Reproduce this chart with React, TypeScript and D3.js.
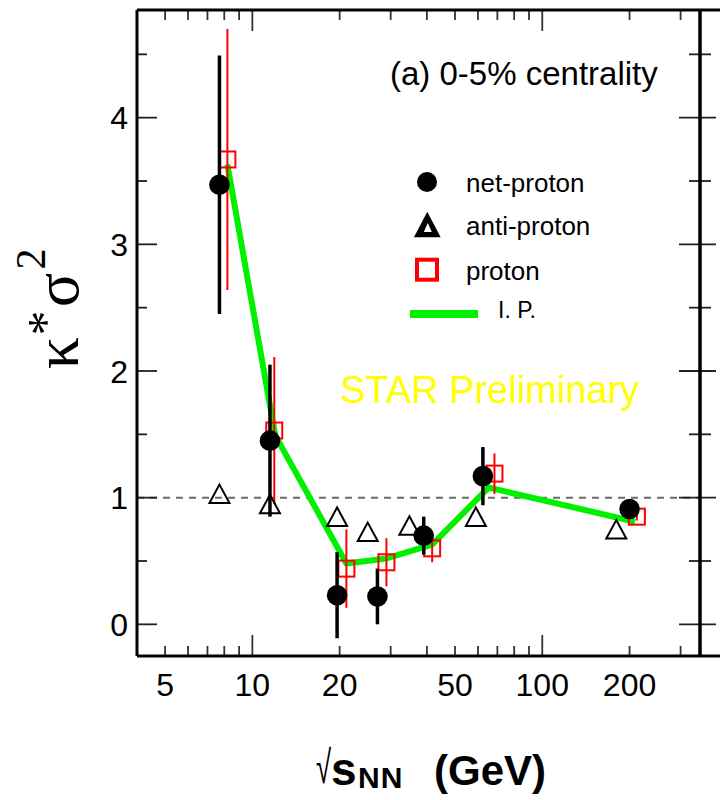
import React from 'react';
import * as d3 from 'd3';

// Kurtosis × variance of proton distributions vs. collision energy (0-5% centrality)
const netProtonEnergy = [7.7, 11.5, 19.6, 27, 39, 62.4, 200];
const netProtonValue = [3.47, 1.45, 0.23, 0.22, 0.7, 1.17, 0.91];
const netProtonError = [1.02, 0.6, 0.34, 0.22, 0.15, 0.23, 0.04];

const protonEnergy = [8.2, 11.9, 21.1, 29, 41.7, 68.4, 212];
const protonValue = [3.67, 1.53, 0.44, 0.49, 0.6, 1.19, 0.85];
const protonError = [1.03, 0.58, 0.31, 0.19, 0.11, 0.16, 0.03];

const antiProtonEnergy = [7.7, 11.5, 19.6, 25, 34.8, 59, 180];
const antiProtonValue = [1.03, 0.95, 0.85, 0.73, 0.78, 0.85, 0.75];

const ipEnergy = [8.2, 12.0, 21.1, 29, 41.7, 65.3, 209];
const ipValue = [3.63, 1.49, 0.48, 0.52, 0.63, 1.08, 0.81];

const xTickLabels = [5, 10, 20, 50, 100, 200];
const yTickLabels = [0, 1, 2, 3, 4];

const legendItems = ['net-proton', 'anti-proton', 'proton', 'I. P.'];

const W = 720;
const H = 800;
const left = 137;
const right = 700;
const top = 10;
const bottom = 656;

const SANS = '"Liberation Sans", Arial, Helvetica, sans-serif';
const SERIF = '"Liberation Serif", "Times New Roman", serif';
const GREEN = '#00f000';
const RED = '#ff0000';

function trianglePath(cx: number, cy: number, w: number, h: number) {
  const p = d3.path();
  p.moveTo(cx, cy - h / 2);
  p.lineTo(cx + w / 2, cy + h / 2);
  p.lineTo(cx - w / 2, cy + h / 2);
  p.closePath();
  return p.toString();
}

export default function App() {
  const x = d3.scaleLog().domain([4, 350]).range([left, right]);
  const y = d3.scaleLinear().domain([-0.25, 4.85]).range([bottom, top]);

  const xTicks = x.ticks().filter((t) => t > 4.01 && t < 350);
  const isMajorX = (t: number) => Math.abs(Math.log10(t) - Math.round(Math.log10(t))) < 1e-9;
  const yTicks = d3.range(0, 4.51, 0.5);
  const isMajorY = (t: number) => Math.abs(t - Math.round(t)) < 1e-9;

  const ipLine = d3
    .line<number>()
    .x((_, i) => x(ipEnergy[i]))
    .y((d) => y(d));

  const sq = 16;

  return (
    <svg
      width={W}
      height={H}
      style={{ position: 'absolute', left: 0, top: 0, background: '#fff' }}
    >
      <rect x={0} y={0} width={W} height={H} fill="#fff" />

      {/* reference line at unity */}
      <line
        x1={left}
        x2={right}
        y1={y(1)}
        y2={y(1)}
        stroke="#6a6a6a"
        strokeWidth={2}
        strokeDasharray="7 6"
      />

      {/* x ticks, bottom and top */}
      {xTicks.map((t) => {
        const len = isMajorX(t) ? 21 : 10;
        return (
          <g key={'xt' + t}>
            <line x1={x(t)} x2={x(t)} y1={bottom} y2={bottom - len} stroke="#333" strokeWidth={1.8} />
            <line x1={x(t)} x2={x(t)} y1={top} y2={top + len} stroke="#333" strokeWidth={1.8} />
          </g>
        );
      })}

      {/* y ticks, left and right */}
      {yTicks.map((t) => {
        const major = isMajorY(t);
        return (
          <g key={'yt' + t}>
            <line x1={left} x2={left + (major ? 20 : 10)} y1={y(t)} y2={y(t)} stroke="#222" strokeWidth={1.8} />
            <line
              x1={right - (major ? 21 : 11)}
              x2={right + (major ? 16 : 11)}
              y1={y(t)}
              y2={y(t)}
              stroke="#222"
              strokeWidth={1.8}
            />
          </g>
        );
      })}

      {/* frame */}
      <line x1={left} x2={W} y1={top} y2={top} stroke="#000" strokeWidth={3} />
      <line x1={left} x2={W} y1={bottom} y2={bottom} stroke="#000" strokeWidth={3} />
      <line x1={left} x2={left} y1={top} y2={bottom} stroke="#000" strokeWidth={3} />
      <line x1={right} x2={right} y1={top} y2={bottom} stroke="#000" strokeWidth={3.5} />

      {/* tick labels */}
      {xTickLabels.map((t) => (
        <text key={'xl' + t} x={x(t)} y={696} fontFamily={SANS} fontSize={32} textAnchor="middle" fill="#000">
          {t}
        </text>
      ))}
      {yTickLabels.map((t) => (
        <text
          key={'yl' + t}
          x={128}
          y={y(t) + 11.5}
          fontFamily={SANS}
          fontSize={32}
          textAnchor="end"
          fill="#000"
        >
          {t}
        </text>
      ))}

      {/* I.P. curve */}
      <path d={ipLine(ipValue) || ''} fill="none" stroke={GREEN} strokeWidth={6} strokeLinejoin="round" />

      {/* proton */}
      {protonEnergy.map((e, i) => (
        <line
          key={'pe' + i}
          x1={x(e)}
          x2={x(e)}
          y1={y(protonValue[i] - protonError[i])}
          y2={y(protonValue[i] + protonError[i])}
          stroke={RED}
          strokeWidth={2}
        />
      ))}
      {protonEnergy.map((e, i) => (
        <rect
          key={'pm' + i}
          x={x(e) - sq / 2}
          y={y(protonValue[i]) - sq / 2}
          width={sq}
          height={sq}
          fill="none"
          stroke={RED}
          strokeWidth={2}
        />
      ))}

      {/* anti-proton */}
      {antiProtonEnergy.map((e, i) => (
        <path
          key={'am' + i}
          d={trianglePath(x(e), y(antiProtonValue[i]), 20, 18.5)}
          fill="none"
          stroke="#000"
          strokeWidth={2}
          strokeLinejoin="miter"
        />
      ))}

      {/* net-proton */}
      {netProtonEnergy.map((e, i) => (
        <line
          key={'ne' + i}
          x1={x(e)}
          x2={x(e)}
          y1={y(netProtonValue[i] - netProtonError[i])}
          y2={y(netProtonValue[i] + netProtonError[i])}
          stroke="#000"
          strokeWidth={3.5}
        />
      ))}
      {netProtonEnergy.map((e, i) => (
        <circle key={'nm' + i} cx={x(e)} cy={y(netProtonValue[i])} r={10.3} fill="#000" />
      ))}

      {/* labels inside the frame */}
      <text x={390} y={85} fontFamily={SANS} fontSize={33} fill="#000">
        (a) 0-5% centrality
      </text>
      <text x={340} y={403} fontFamily={SANS} fontSize={38} fill="#ffff00">
        STAR Preliminary
      </text>

      {/* legend */}
      <circle cx={427} cy={182} r={10} fill="#000" />
      <text x={466} y={192} fontFamily={SANS} fontSize={26} fill="#000">
        {legendItems[0]}
      </text>
      <path d={trianglePath(427.3, 224.5, 26.7, 25.6)} fill="#000" />
      <path d={trianglePath(427.8, 227.5, 8, 9)} fill="#fff" />
      <text x={466} y={235} fontFamily={SANS} fontSize={26} fill="#000">
        {legendItems[1]}
      </text>
      <rect x={417} y={259.7} width={20} height={20} fill="none" stroke={RED} strokeWidth={4} />
      <text x={466} y={280} fontFamily={SANS} fontSize={26} fill="#000">
        {legendItems[2]}
      </text>
      <line x1={410} x2={478} y1={314} y2={314} stroke={GREEN} strokeWidth={8} />
      <text x={498} y={318} fontFamily={SANS} fontSize={23} fill="#000">
        {legendItems[3]}
      </text>

      {/* y-axis title */}
      <g transform="translate(78,0) rotate(-90)">
        <text x={-353} y={0} fontFamily={SERIF} fontSize={64} textAnchor="middle" fill="#000">
          κ
        </text>
        <text x={-323} y={-16} fontFamily={SERIF} fontSize={50} textAnchor="middle" fill="#000">
          *
        </text>
        <text x={-290} y={0} fontFamily={SERIF} fontSize={64} textAnchor="middle" fill="#000">
          σ
        </text>
        <text x={-259} y={-33} fontFamily={SERIF} fontSize={42} textAnchor="middle" fill="#000">
          2
        </text>
      </g>

      {/* x-axis title */}
      <text transform="translate(316,783) scale(0.6,1)" x={0} y={0} fontFamily={SANS} fontSize={46} fill="#000">
        √
      </text>
      <text x={331} y={785} fontFamily={SANS} fontSize={46} fontWeight="bold" fill="#000">
        s
      </text>
      <text x={358} y={788} fontFamily={SANS} fontSize={30} fontWeight="bold" letterSpacing={1} fill="#000">
        NN
      </text>
      <text x={434} y={785} fontFamily={SANS} fontSize={42} fontWeight="bold" fill="#000">
        (GeV)
      </text>
    </svg>
  );
}
